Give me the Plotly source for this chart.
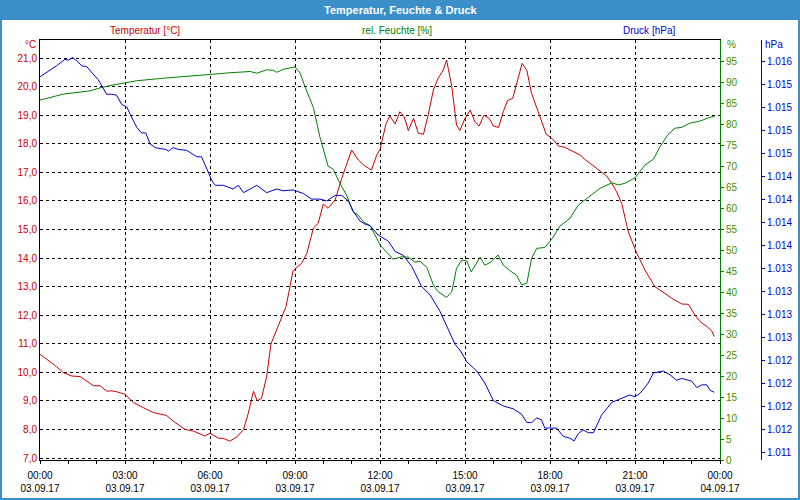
import pandas as pd
import plotly.graph_objects as go

# ---- data (minutes after 03.09.17 00:00) ----
temp_min = [0, 21, 35, 49, 67, 85, 92, 106, 113, 127, 141, 152, 162, 180, 198, 219, 240, 268, 282, 307,
            325, 349, 360, 378, 388, 402, 417, 431, 441, 452, 460, 469, 480, 489, 498, 512, 521, 536, 544, 554,
            565, 572, 579, 589, 600, 610, 625, 639, 660, 674, 688, 702, 713, 720, 733, 741, 752, 762, 771, 780,
            791, 801, 812, 822, 833, 843, 854, 861, 872, 882, 889, 900, 911, 921, 930, 940, 951, 960, 971, 981,
            990, 1001, 1011, 1021, 1031, 1041, 1055, 1072, 1084, 1098, 1112, 1129, 1144, 1154, 1179, 1200, 1211,
            1221, 1232, 1246, 1264, 1281, 1302, 1320, 1338, 1359, 1373, 1387, 1398, 1412, 1422, 1428]
temp_val = [10.63, 10.37, 10.2, 9.99, 9.87, 9.85, 9.77, 9.58, 9.53, 9.53, 9.34, 9.35, 9.32, 9.23, 8.94, 8.76, 8.59, 8.49, 8.29, 8.0,
            7.94, 7.77, 7.87, 7.69, 7.69, 7.59, 7.74, 8.0, 8.56, 9.34, 9.0, 9.09, 9.85, 10.99, 11.36, 11.89, 12.3, 13.56, 13.67, 13.81,
            14.16, 14.63, 15.05, 15.21, 15.89, 15.74, 16.03, 16.79, 17.78, 17.43, 17.22, 17.08, 17.6, 17.8, 18.71, 18.97, 18.69, 19.12, 18.95, 18.46,
            18.89, 18.37, 18.33, 19.0, 19.88, 20.29, 20.58, 20.93, 20.0, 18.66, 18.46, 18.89, 19.18, 18.77, 18.62, 19.0, 18.89, 18.62, 18.57, 19.12,
            19.51, 19.59, 20.17, 20.81, 20.56, 19.76, 19.12, 18.33, 18.19, 17.92, 17.87, 17.74, 17.6, 17.45, 17.14, 16.87, 16.61,
            16.32, 15.9, 14.9, 14.16, 13.58, 13.0, 12.79, 12.59, 12.39, 12.38, 12.0, 11.77, 11.6, 11.46, 11.25]

hum_min = [0, 49, 106, 127, 155, 184, 205, 261, 318, 360, 402, 431, 445, 459, 480, 494, 501, 515, 540, 551,
           561, 579, 593, 610, 621, 635, 649, 663, 674, 685, 699, 713, 720, 748, 766, 780, 794, 805, 819, 833,
           843, 861, 872, 882, 893, 904, 913, 921, 932, 942, 953, 970, 981, 995, 1009, 1020, 1031, 1041, 1052, 1069,
           1084, 1101, 1122, 1140, 1165, 1186, 1211, 1225, 1239, 1260, 1281, 1299, 1313, 1330, 1345, 1359, 1376, 1398, 1419, 1429]
hum_val = [85.7, 87.1, 87.9, 88.6, 89.3, 89.8, 90.3, 90.9, 91.5, 91.8, 92.2, 92.3, 92.5, 92.1, 92.9, 92.8, 92.3, 93.0, 93.6, 92.1,
           88.9, 83.9, 76.8, 70.0, 69.2, 65.9, 63.1, 59.1, 58.3, 56.7, 55.8, 52.8, 51.2, 47.8, 48.4, 48.3, 47.1, 47.3, 45.9, 41.7,
           40.1, 38.7, 40.1, 45.6, 47.6, 47.4, 44.8, 46.2, 48.3, 46.4, 47.0, 48.8, 46.4, 45.1, 44.0, 41.7, 42.1, 48.0, 50.4, 50.6,
           52.6, 55.7, 57.5, 60.7, 62.8, 64.7, 66.0, 65.5, 65.9, 67.2, 70.2, 71.6, 74.6, 77.5, 79.0, 79.2, 80.2, 80.7, 81.6, 81.9]

pres_min = [0, 18, 35, 53, 60, 69, 81, 88, 99, 109, 123, 131, 141, 152, 162, 173, 184, 191, 205, 215,
            224, 233, 244, 254, 267, 272, 282, 293, 311, 332, 342, 349, 364, 371, 388, 409, 420, 431, 445, 459,
            480, 501, 515, 536, 558, 575, 593, 607, 625, 639, 653, 663, 678, 688, 699, 716, 738, 752, 769, 787,
            808, 826, 847, 865, 879, 889, 904, 925, 942, 960, 981, 1002, 1020, 1031, 1041, 1052, 1062, 1069, 1094, 1108,
            1122, 1131, 1140, 1150, 1161, 1172, 1189, 1211, 1232, 1249, 1260, 1271, 1288, 1299, 1320, 1334, 1348, 1359, 1380, 1391,
            1401, 1412, 1419, 1428]
pres_val = [1015.33, 1015.39, 1015.45, 1015.52, 1015.51, 1015.54, 1015.49, 1015.45, 1015.44, 1015.38, 1015.30, 1015.23, 1015.14, 1015.14, 1015.13, 1015.03, 1015.00, 1014.92, 1014.78, 1014.72,
            1014.72, 1014.60, 1014.56, 1014.55, 1014.54, 1014.52, 1014.56, 1014.54, 1014.53, 1014.46, 1014.46, 1014.38, 1014.20, 1014.15, 1014.15, 1014.11, 1014.15, 1014.07, 1014.11, 1014.15,
            1014.07, 1014.11, 1014.09, 1014.10, 1014.06, 1014.00, 1014.00, 1013.98, 1014.04, 1014.04, 1013.98, 1013.87, 1013.76, 1013.73, 1013.71, 1013.61, 1013.54, 1013.43, 1013.39, 1013.27,
            1013.05, 1012.96, 1012.78, 1012.58, 1012.42, 1012.36, 1012.23, 1012.13, 1012.00, 1011.81, 1011.75, 1011.72, 1011.66, 1011.57, 1011.57, 1011.62, 1011.60, 1011.51, 1011.51, 1011.42,
            1011.40, 1011.37, 1011.45, 1011.49, 1011.46, 1011.46, 1011.65, 1011.79, 1011.83, 1011.87, 1011.85, 1011.89, 1012.00, 1012.11, 1012.13, 1012.09, 1012.03, 1012.05, 1012.02, 1011.95,
            1011.98, 1011.98, 1011.92, 1011.90]

title_text = "Temperatur, Feuchte & Druck"
series_names = ["Temperatur [°C]", "rel. Feuchte [%]", "Druck [hPa]"]
hum_ticks = list(range(0, 100, 5))

# ---- styling ----
RED = "#cc0000"
GREEN = "#008000"
GREEN_TXT = "#3a9000"
BLUE = "#0000cc"
FRAME = "#3b8ec8"
FONT = "Liberation Sans"

start = pd.Timestamp("2017-09-03 00:00")
def to_time(mins):
    return [start + pd.Timedelta(minutes=m) for m in mins]

W, H = 800, 500
ML, MR, MT, MB = 40, 5, 40, 40
PW = W - ML - MR
PH = H - MT - MB
def px(x):
    return (x - ML) / PW
def py(y):
    return (H - MB - y) / PH

fig = go.Figure()
fig.add_trace(go.Scatter(x=to_time(temp_min), y=temp_val, mode="lines", line=dict(color=RED, width=1),
                         name=series_names[0], yaxis="y"))
fig.add_trace(go.Scatter(x=to_time(hum_min), y=hum_val, mode="lines", line=dict(color=GREEN, width=1),
                         name=series_names[1], yaxis="y2"))
fig.add_trace(go.Scatter(x=to_time(pres_min), y=pres_val, mode="lines", line=dict(color=BLUE, width=1),
                         name=series_names[2], yaxis="y3"))

grid = dict(showgrid=True, gridcolor="black", gridwidth=1, griddash="3px,3px")

fig.update_layout(
    width=W, height=H, autosize=False,
    margin=dict(l=ML, r=MR, t=MT, b=MB, autoexpand=False),
    paper_bgcolor="white", plot_bgcolor="white",
    separators=",.",
    showlegend=False,
    font=dict(family=FONT, size=10, color="black"),
    xaxis=dict(
        domain=[0, px(720)], type="date",
        range=[start, start + pd.Timedelta(hours=24)],
        tick0=start, dtick=3 * 3600000, tickformat="%H:%M<br>%d.%m.%y",
        ticks="outside", ticklen=3, tickcolor="black", ticklabelstandoff=3,
        minor=dict(dtick=3600000, ticks="outside", ticklen=3, tickcolor="black", showgrid=False),
        showline=True, linecolor="black", linewidth=1, mirror=True,
        zeroline=False, tickfont=dict(size=10, color="black"), **grid),
    yaxis=dict(
        range=[6.93, 21.63], tickmode="linear", tick0=7, dtick=1, tickformat=".1f",
        showline=True, linecolor="black", linewidth=1, ticks="",
        zeroline=False, tickfont=dict(size=10, color=RED), **grid),
    yaxis2=dict(
        overlaying="y", side="right", anchor="x", range=[0, 100],
        tickmode="array", tickvals=hum_ticks,
        showline=True, linecolor=GREEN, linewidth=1, ticks="outside", ticklen=3, tickcolor=GREEN,
        showgrid=False, zeroline=False, tickfont=dict(size=10, color=GREEN_TXT)),
    yaxis3=dict(
        overlaying="y", side="right", anchor="free", position=px(761),
        range=[1011.163, 1015.73], tickmode="linear", tick0=1011.25, dtick=0.25, tickformat=",.0f",
        showline=True, linecolor=BLUE, linewidth=1, ticks="outside", ticklen=3, tickcolor=BLUE,
        showgrid=False, zeroline=False, tickfont=dict(size=10, color=BLUE)),
)

fig.add_shape(type="rect", xref="paper", yref="paper", x0=px(0), x1=px(800), y0=py(20), y1=py(0),
              fillcolor=FRAME, line=dict(width=0), layer="below")
fig.add_shape(type="rect", xref="paper", yref="paper", x0=px(1), x1=px(799), y0=py(499), y1=py(0),
              fillcolor="rgba(0,0,0,0)", line=dict(color=FRAME, width=2))

ann = [
    dict(text="<b>" + title_text + "</b>", x=px(400), y=py(10), font=dict(size=11, color="white"), xanchor="center"),
    dict(text=series_names[0], x=px(145), y=py(30), font=dict(size=10, color=RED), xanchor="center"),
    dict(text=series_names[1], x=px(397), y=py(30), font=dict(size=10, color=GREEN), xanchor="center"),
    dict(text=series_names[2], x=px(649), y=py(30), font=dict(size=10, color=BLUE), xanchor="center"),
    dict(text="°C", x=px(38), y=py(45), font=dict(size=10, color=RED), xanchor="right"),
    dict(text="%", x=px(725), y=py(45), font=dict(size=10, color=GREEN_TXT), xanchor="left"),
    dict(text="hPa", x=px(763), y=py(45), font=dict(size=10, color=BLUE), xanchor="left"),
]
for a in ann:
    fig.add_annotation(xref="paper", yref="paper", showarrow=False, yanchor="middle", **a)

fig.write_html("out.html")
